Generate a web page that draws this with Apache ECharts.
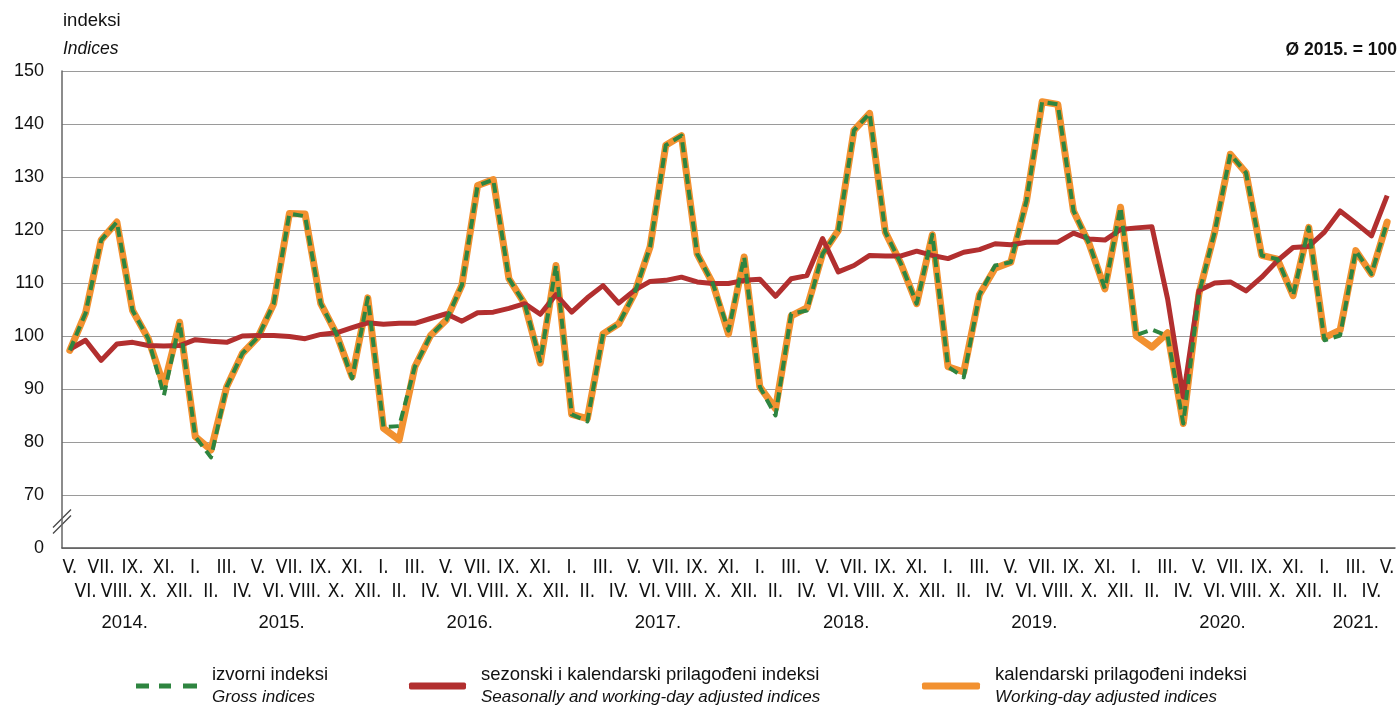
<!DOCTYPE html>
<html><head><meta charset="utf-8">
<script src="https://cdn.jsdelivr.net/npm/echarts@6/dist/echarts.min.js"></script>
<style>html,body{margin:0;padding:0;background:#fff}#c{width:1400px;height:709px}</style>
</head><body><div id="c"></div>
<script>
// ---------- data ----------
const romanMonths = ['I.','II.','III.','IV.','V.','VI.','VII.','VIII.','IX.','X.','XI.','XII.'];
const yearLabels = ['2014.','2015.','2016.','2017.','2018.','2019.','2020.','2021.'];
const firstYear = 2014, firstMonth = 5, monthCount = 85; // V.2014 – V.2021
const yTickValues = [60,70,80,90,100,110,120,130,140,150];
const yBreakLabel = '0';

const seriesNames = ['izvorni indeksi','sezonski i kalendarski prilagođeni indeksi','kalendarski prilagođeni indeksi'];
const seriesSubNames = ['Gross indices','Seasonally and working-day adjusted indices','Working-day adjusted indices'];

// izvorni indeksi (gross)
const grossIdx = [
 97.3,104.3,118.1,121.5,104.8, 99.5, 88.8,102.6,
 81.0, 77.1, 90.4, 96.7, 99.8,106.1,123.1,122.6,106.1,100.4, 92.0,107.2,
 82.8, 83.0, 94.2,100.1,103.0,109.6,128.4,129.5,110.8,106.1, 95.3,113.3,
 85.2, 83.9,100.4,102.3,108.0,116.8,136.0,137.8,115.5,109.9,101.0,114.9,
 90.4, 85.0,104.2,104.8,115.5,119.9,138.8,142.0,119.6,113.6,106.1,119.1,
 94.2, 92.2,107.8,113.3,113.9,125.5,144.2,143.7,123.6,117.4,108.9,124.3,
100.2,101.2,100.0, 83.5,108.0,119.6,134.3,130.8,115.2,114.5,107.6,120.5,
 99.2,100.1,116.1,111.7,121.5];
// sezonski i kalendarski prilagođeni indeksi (seasonally & working-day adjusted)
const seasAdjIdx = [
 97.5, 99.2, 95.4, 98.5, 98.8, 98.2, 98.1, 98.2,
 99.3, 99.0, 98.8,100.0,100.1,100.1, 99.9, 99.5,100.3,100.6,101.6,102.5,
102.2,102.4,102.4,103.3,104.2,102.8,104.4,104.5,105.2,106.1,104.1,107.8,
104.5,107.2,109.5,106.2,108.6,110.3,110.5,111.1,110.2,109.9,109.9,110.5,
110.7,107.5,110.8,111.4,118.4,112.1,113.3,115.2,115.1,115.1,116.0,115.2,
114.6,115.8,116.3,117.4,117.2,117.7,117.7,117.7,119.4,118.3,118.1,120.1,
120.4,120.6,107.0, 88.5,108.6,110.0,110.2,108.5,111.1,114.2,116.7,116.9,
119.6,123.6,121.3,118.9,126.5];
// kalendarski prilagođeni indeksi (working-day adjusted)
const wdAdjIdx = [
 97.3,104.3,118.1,121.5,104.8, 99.5, 90.6,102.6,
 81.0, 78.5, 90.4, 96.7, 99.8,106.1,123.1,123.0,106.1,100.4, 92.3,107.2,
 82.6, 80.4, 94.2,100.1,103.0,109.6,128.4,129.5,110.8,106.1, 94.9,113.3,
 85.2, 84.4,100.4,102.3,108.0,116.8,136.0,137.8,115.5,109.9,100.4,114.9,
 90.4, 86.3,103.8,105.3,115.5,119.9,138.8,142.0,119.6,113.6,106.1,119.1,
 94.2, 93.2,107.8,112.8,113.9,125.5,144.2,143.7,123.6,117.4,108.9,124.3,
100.0, 97.9,100.6, 83.5,108.0,119.6,134.3,130.8,115.2,114.5,107.6,120.5,
 99.7,101.1,116.1,111.7,121.5];

// ---------- derived categories ----------
const categories = [];
const monthYear = [];
for (let k = 0; k < monthCount; k++) {
  const m = (firstMonth - 1 + k) % 12;
  const y = firstYear + Math.floor((firstMonth - 1 + k) / 12);
  categories.push(y + '|' + romanMonths[m]);
  monthYear.push(y);
}
// half-step axis for centred year labels
const halfCats = [];
for (let j = 0; j <= 2 * monthCount; j++) halfCats.push('h' + j);
const yearAt = {};
yearLabels.forEach((lab, yi) => {
  const yr = firstYear + yi;
  const idx = monthYear.map((v, i) => v === yr ? i : -1).filter(i => i >= 0);
  const mid = (idx[0] + idx[idx.length - 1]) / 2;
  yearAt[2 * mid + 1] = lab;
});

// ---------- style ----------
const FONT = '"Liberation Sans", Arial, sans-serif';
const NARROW = '"Liberation Sans Narrow","DejaVu Sans Condensed","Liberation Sans",sans-serif';
const GREEN = '#2e8540', RED = '#b22f2f', ORANGE = '#f29130';
const TXT = '#111';

function legendCfg(i, left, icon, w, h) {
  return {
    left: left, top: 665, padding: 0, itemWidth: w, itemHeight: h,
    selectedMode: false,
    data: [{ name: seriesNames[i], icon: icon }],
    formatter: n => '{s| }{a|' + n + '}\n{s| }{b|' + seriesSubNames[i] + '}',
    textStyle: {
      rich: {
        s: { width: 10 },
        a: { fontFamily: FONT, fontSize: 18.5, color: TXT, lineHeight: 23 },
        b: { fontFamily: FONT, fontSize: 17, fontStyle: 'italic', color: TXT, lineHeight: 23 }
      }
    }
  };
}

const chart = echarts.init(document.getElementById('c'), null, { renderer: 'canvas' });
chart.setOption({
  animation: false,
  backgroundColor: '#fff',
  title: [
    { text: 'indeksi', subtext: 'Indices', left: 63, top: 10, padding: 0, itemGap: 6,
      textStyle: { fontFamily: FONT, fontSize: 18.5, fontWeight: 'normal', color: TXT, lineHeight: 22 },
      subtextStyle: { fontFamily: FONT, fontSize: 17.5, fontStyle: 'italic', color: TXT, lineHeight: 22 } },
    { text: 'Ø 2015. = 100', right: 3, top: 41, padding: 0,
      textStyle: { fontFamily: FONT, fontSize: 17.5, fontWeight: 'bold', color: TXT } }
  ],
  legend: [
    legendCfg(0, 136, 'path://M0,0h13v5h-13z M23,0h12v5h-12z M47,0h14v5h-14z', 61, 5),
    legendCfg(1, 409, 'roundRect', 57, 7),
    legendCfg(2, 922, 'roundRect', 58, 7)
  ],
  grid: { left: 62, right: 5, top: 71, bottom: 161, containLabel: false },
  xAxis: [
    { type: 'category', data: categories, boundaryGap: true,
      axisLine: { show: true, lineStyle: { color: '#555', width: 1.5 } },
      axisTick: { show: false },
      splitLine: { show: false },
      axisLabel: { interval: 0, margin: 8, lineHeight: 24, fontFamily: NARROW, fontSize: 19, color: TXT,
        formatter: (v, i) => { const r = v.split('|')[1]; return i % 2 ? '\n' + r : r; } } },
    { type: 'category', data: halfCats, boundaryGap: false, position: 'bottom',
      axisLine: { show: false }, axisTick: { show: false }, splitLine: { show: false },
      axisLabel: { interval: 0, margin: 66, lineHeight: 18, fontFamily: FONT, fontSize: 18.5, color: TXT,
        formatter: (v, j) => yearAt[j] || '' } }
  ],
  yAxis: {
    type: 'value', min: yTickValues[0], max: yTickValues[yTickValues.length - 1], interval: 10,
    axisLine: { show: true, lineStyle: { color: '#666', width: 1.5 } },
    axisTick: { show: false },
    splitLine: { show: true, lineStyle: { color: '#9a9a9a', width: 1.2 } },
    axisLabel: { margin: 18, fontFamily: FONT, fontSize: 18, color: TXT,
      formatter: v => v === yTickValues[0] ? yBreakLabel : String(v) }
  },
  series: [
    { name: seriesNames[2], type: 'line', data: wdAdjIdx, symbol: 'none', z: 2,
      itemStyle: { color: ORANGE }, lineStyle: { color: ORANGE, width: 7, join: 'round', cap: 'round' } },
    { name: seriesNames[1], type: 'line', data: seasAdjIdx, symbol: 'none', z: 3,
      itemStyle: { color: RED }, lineStyle: { color: RED, width: 5, join: 'round' } },
    { name: seriesNames[0], type: 'line', data: grossIdx, symbol: 'none', z: 4,
      itemStyle: { color: GREEN }, lineStyle: { color: GREEN, width: 4, type: [10, 6], join: 'round' } }
  ]
});

// axis break marker on the y axis (between 0 and 70)
const by = chart.convertToPixel({ yAxisIndex: 0 }, 65);
const bx = 62;
chart.setOption({
  graphic: [{
    type: 'group', z: 100,
    children: [
      { type: 'polygon', shape: { points: [[bx-9, by+12],[bx+9, by-6],[bx+9, by-12],[bx-9, by+6]] },
        style: { fill: '#fff' } },
      { type: 'line', shape: { x1: bx-9, y1: by+12, x2: bx+9, y2: by-6 }, style: { stroke: '#444', lineWidth: 1.3 } },
      { type: 'line', shape: { x1: bx-9, y1: by+6, x2: bx+9, y2: by-12 }, style: { stroke: '#444', lineWidth: 1.3 } }
    ]
  }]
});
</script></body></html>
